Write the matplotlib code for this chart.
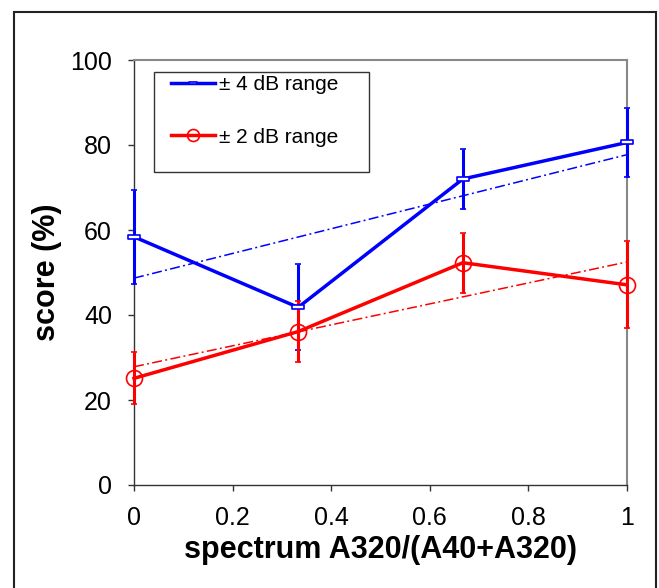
import numpy as np
import matplotlib
matplotlib.use("Agg")
import matplotlib.pyplot as plt
from matplotlib.patches import Rectangle
from matplotlib.path import Path

plt.rcParams['font.family'] = ['Liberation Sans', 'DejaVu Sans']
plt.rcParams['lines.scale_dashes'] = False

# spectrum ratio A320/(A40+A320)
ratio = [0.0, 0.333, 0.667, 1.0]

# mean score (%) and error for each level range
score_4db = [58.4, 41.8, 72.0, 80.6]
err_4db = [11.0, 10.1, 7.1, 8.2]
score_2db = [25.1, 36.1, 52.3, 47.1]
err_2db = [6.1, 7.2, 7.1, 10.2]

series_labels = ["\u00b1 4 dB range", "\u00b1 2 dB range"]
x_ticks = [0, 0.2, 0.4, 0.6, 0.8, 1]
x_tick_labels = ["0", "0.2", "0.4", "0.6", "0.8", "1"]
y_ticks = [0, 20, 40, 60, 80, 100]

BLUE = "#0000FF"
RED = "#FF0000"

fig = plt.figure(figsize=(6.59, 5.88), dpi=100)
W, H = 659, 588
ax = fig.add_axes([134 / W, 1 - 485 / H, 493 / W, 425 / H])

# outer frame around the whole chart
fig.patches.append(Rectangle((14 / W, -0.05), (656 - 14) / W, 1.05 - 12 / H,
                             transform=fig.transFigure, fill=False,
                             edgecolor="#222222", linewidth=1.5))

# dash-marker for the 4 dB series (flat rectangle)
dash_marker = Path([(-1, -0.32), (1, -0.32), (1, 0.32), (-1, 0.32), (-1, -0.32)],
                   [Path.MOVETO, Path.LINETO, Path.LINETO, Path.LINETO, Path.CLOSEPOLY])

x = np.array(ratio)
xs = np.array([x.min(), x.max()])
dashdot = (0, (7.2, 2.4, 1.4, 2.4))

# linear trend lines
for vals, col in ((score_4db, BLUE), (score_2db, RED)):
    k, b = np.polyfit(x, np.array(vals), 1)
    ax.plot(xs, k * xs + b, color=col, linewidth=1.1, linestyle=dashdot, zorder=2)

eb4 = ax.errorbar(ratio, score_4db, yerr=err_4db, color=BLUE, linewidth=2.5,
                  elinewidth=2.2, capsize=2.3, capthick=1.6,
                  marker=dash_marker, markersize=8, markerfacecolor="white",
                  markeredgecolor=BLUE, markeredgewidth=1.2, zorder=3, clip_on=False)
eb2 = ax.errorbar(ratio, score_2db, yerr=err_2db, color=RED, linewidth=2.5,
                  elinewidth=2.2, capsize=2.3, capthick=1.6,
                  marker="o", markersize=11.5, markerfacecolor="none",
                  markeredgecolor=RED, markeredgewidth=1.2, zorder=3, clip_on=False)
for cont in (eb4, eb2):
    for art in cont.lines[1] + cont.lines[2]:
        art.set_clip_on(False)

ax.set_xlim(0, 1)
ax.set_ylim(0, 100)
ax.set_xticks(x_ticks)
ax.set_xticklabels(x_tick_labels)
ax.set_yticks(y_ticks)

for side in ("left", "bottom"):
    ax.spines[side].set_color("#333333")
    ax.spines[side].set_linewidth(1.0)
for side in ("top", "right"):
    ax.spines[side].set_color("#888888")
    ax.spines[side].set_linewidth(1.5)

ax.tick_params(axis="both", direction="out", length=4.3, width=1.0,
               color="#333333", labelsize=18, labelcolor="black")
ax.tick_params(axis="y", pad=11.5)
ax.tick_params(axis="x", pad=11)

ax.set_xlabel("spectrum A320/(A40+A320)", fontsize=22, fontweight="bold", labelpad=3.5)
ax.set_ylabel("score (%)", fontsize=22, fontweight="bold", labelpad=6)

# legend box
ax.add_patch(Rectangle((20 / 493, (485 - 172) / 425), 215 / 493, 100 / 425,
                       transform=ax.transAxes, facecolor="white",
                       edgecolor="#333333", linewidth=1.0, zorder=4))
leg = ax.legend([eb4[0], eb2[0]], series_labels, loc="upper left",
                bbox_to_anchor=((171 - 134) / 493, (485 - 75) / 425),
                borderaxespad=0, borderpad=0, frameon=False, fontsize=15,
                handlelength=2.1, handletextpad=0.2, labelspacing=1.62,
                markerscale=0.75)
leg.set_zorder(5)

fig.savefig("out.png", dpi=100)
